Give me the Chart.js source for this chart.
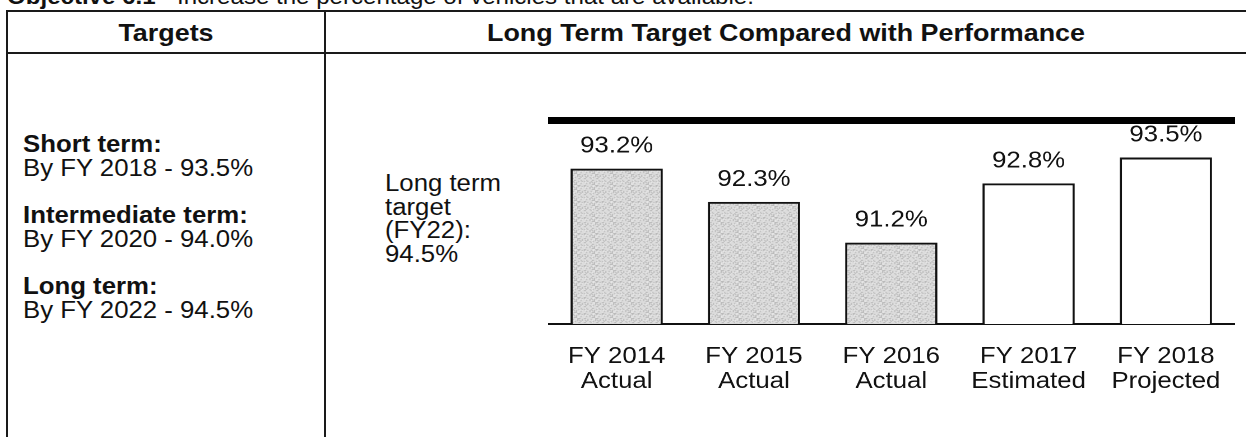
<!DOCTYPE html>
<html>
<head>
<meta charset="utf-8">
<script src="https://cdn.jsdelivr.net/npm/chart.js@4/dist/chart.umd.min.js"></script>
<style>
  html, body { margin: 0; padding: 0; background: #fff; }
  body { width: 1246px; height: 437px; overflow: hidden; position: relative;
         font-family: 'Liberation Sans', Arial, sans-serif; color: #111; font-size: 23px; }
  .abs { position: absolute; white-space: nowrap; }
  /* el escaneo original esta estirado en horizontal */
  .sx { transform: scaleX(1.12); transform-origin: 0 0; }
  .line { position: absolute; background: #1a1a1a; }
  .head { position: absolute; top: 13px; line-height: 40px; text-align: center; font-weight: bold; font-size: 24px;
          white-space: nowrap; transform: scaleX(1.12); transform-origin: 50% 0; }
  b { font-weight: bold; }
</style>
</head>
<body>
  <div class="abs sx" style="left:7px; top:-14px; line-height:22px; font-size:21.5px;"><b>Objective 6.1</b> - Increase the percentage of vehicles that are available.</div>

  <!-- lineas de la tabla -->
  <div class="line" style="left:6px; top:10px; width:1240px; height:2px;"></div>
  <div class="line" style="left:6px; top:52px; width:1240px; height:2px;"></div>
  <div class="line" style="left:6px; top:10px; width:2px; height:430px;"></div>
  <div class="line" style="left:324px; top:10px; width:2px; height:430px;"></div>

  <div class="head" style="left:7px; width:318px;">Targets</div>
  <div class="head" style="left:325px; width:922px;">Long Term Target Compared with Performance</div>

  <div class="abs sx" style="left:23px; top:133px; line-height:23.7px;">
    <b>Short term:</b><br>By FY 2018 - 93.5%<br><br>
    <b>Intermediate term:</b><br>By FY 2020 - 94.0%<br><br>
    <b>Long term:</b><br>By FY 2022 - 94.5%
  </div>

  <div class="abs sx" style="left:385px; top:172px; line-height:23.7px;">Long term<br>target<br>(FY22):<br>94.5%</div>

  <div class="abs sx" style="left:548px; top:90px; width:612.5px; height:314px;">
    <canvas id="perfChart"></canvas>
  </div>

<script>
// datos del grafico
const categories = [
  ['FY 2014', 'Actual'],
  ['FY 2015', 'Actual'],
  ['FY 2016', 'Actual'],
  ['FY 2017', 'Estimated'],
  ['FY 2018', 'Projected']
];
const values = [93.2, 92.3, 91.2, 92.8, 93.5];
const targetValue = 94.5; // objetivo largo plazo (FY22)
const yRange = [89, 95];

Chart.defaults.font.family = "'Liberation Sans', Arial, sans-serif";
Chart.defaults.color = '#111';

// trama punteada gris (como la fotocopia) para los valores reales
function stipple() {
  const n = 16;
  const c = document.createElement('canvas');
  c.width = n; c.height = n;
  const g = c.getContext('2d');
  g.fillStyle = '#dcdcdc';
  g.fillRect(0, 0, n, n);
  for (let y = 0; y < n; y++) {
    for (let x = 0; x < n; x++) {
      const h = (x * 37 + y * 91 + x * y * 13) % 11;
      if (h < 3) { g.fillStyle = '#b2b2b2'; g.fillRect(x, y, 1, 1); }
      else if (h > 8) { g.fillStyle = '#efefef'; g.fillRect(x, y, 1, 1); }
    }
  }
  return g.createPattern(c, 'repeat');
}
const grey = stipple();
const fills = categories.map(c => c[1] === 'Actual' ? grey : '#ffffff');

// linea gruesa del objetivo
const targetLine = {
  id: 'targetLine',
  afterDatasetsDraw(chart) {
    const { ctx, chartArea, scales } = chart;
    const y = scales.y.getPixelForValue(targetValue);
    ctx.save();
    ctx.fillStyle = '#000';
    ctx.fillRect(chartArea.left, y - 3.5, chartArea.right - chartArea.left + 1.5, 7);
    ctx.restore();
  }
};

// etiquetas de valor encima de cada barra
const valueLabels = {
  id: 'valueLabels',
  afterDatasetsDraw(chart) {
    const { ctx } = chart;
    const meta = chart.getDatasetMeta(0);
    ctx.save();
    ctx.font = "23px 'Liberation Sans', Arial, sans-serif";
    ctx.fillStyle = '#111';
    ctx.textAlign = 'center';
    ctx.textBaseline = 'alphabetic';
    meta.data.forEach((bar, i) => {
      ctx.fillText(values[i].toFixed(1) + '%', bar.x, bar.y - 16);
    });
    ctx.restore();
  }
};

new Chart(document.getElementById('perfChart'), {
  type: 'bar',
  data: {
    labels: categories,
    datasets: [{
      data: values,
      backgroundColor: fills,
      borderColor: '#111',
      borderWidth: 2,
      borderSkipped: false,
      categoryPercentage: 1,
      barPercentage: 0.672
    }]
  },
  options: {
    responsive: true,
    maintainAspectRatio: false,
    animation: false,
    devicePixelRatio: 2,
    layout: { padding: { top: 12, left: 0, right: 0, bottom: 0 } },
    plugins: {
      legend: { display: false },
      tooltip: { enabled: false }
    },
    scales: {
      x: {
        grid: { display: false },
        border: { display: true, color: '#111', width: 2 },
        ticks: { font: { size: 23, lineHeight: 1.087 }, color: '#111', padding: 12, maxRotation: 0, autoSkip: false },
        afterFit(axis) { axis.height = 80; }
      },
      y: {
        display: false,
        min: yRange[0],
        max: yRange[1]
      }
    }
  },
  plugins: [targetLine, valueLabels]
});
</script>
</body>
</html>
